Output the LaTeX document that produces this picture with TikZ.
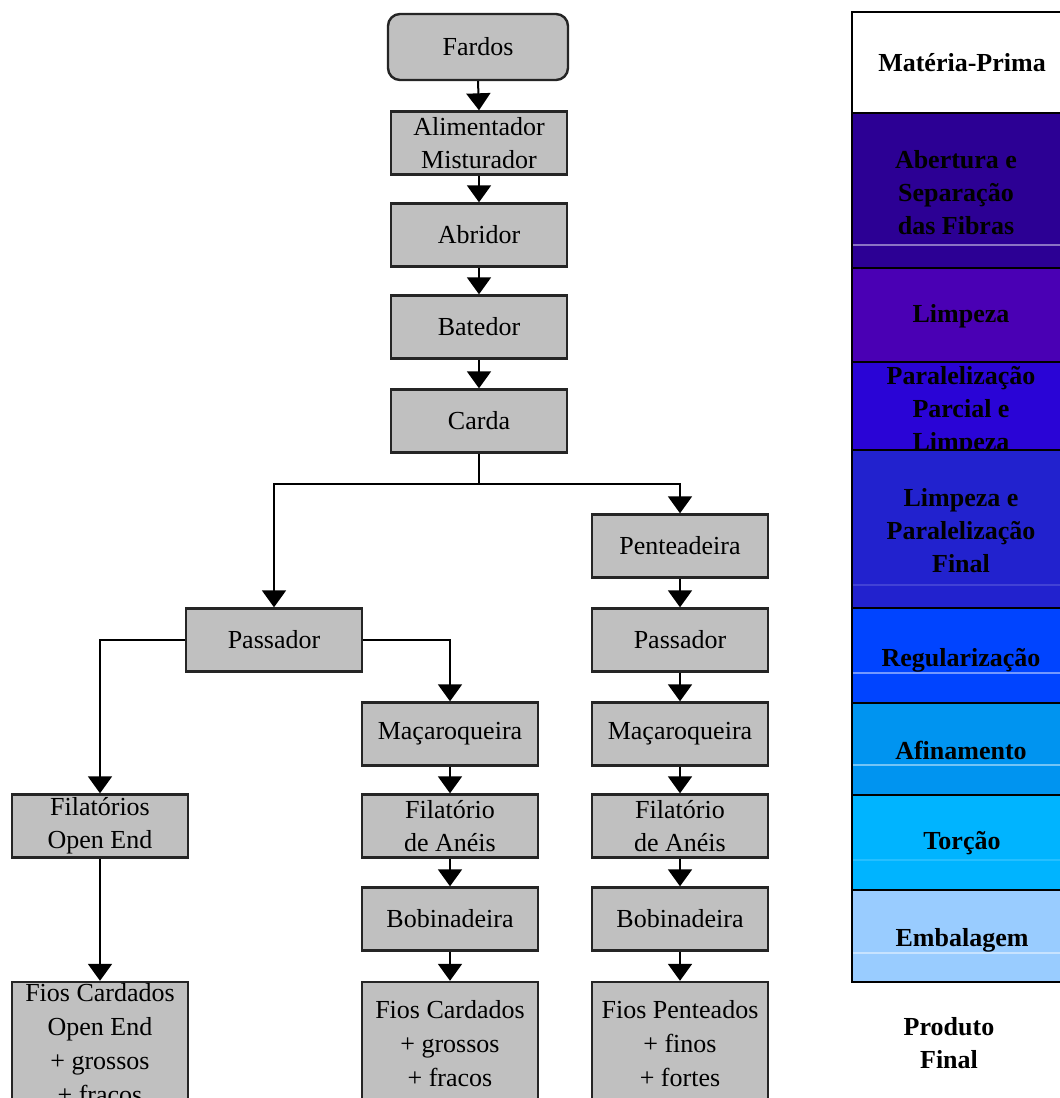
\documentclass[tikz,border=0pt]{standalone}
\usepackage{fontspec}
\setmainfont{Liberation Serif}
\usetikzlibrary{arrows.meta}
\definecolor{boxgray}{HTML}{C0C0C0}
\definecolor{edgegray}{HTML}{252525}
\definecolor{rowA}{HTML}{2C0094}
\definecolor{rowB}{HTML}{4A00B4}
\definecolor{rowC}{HTML}{2A04D6}
\definecolor{rowD}{HTML}{2222CE}
\definecolor{rowE}{HTML}{0044FF}
\definecolor{rowF}{HTML}{0094F0}
\definecolor{rowG}{HTML}{00B4FF}
\definecolor{rowH}{HTML}{99CCFF}
\begin{document}
\begin{tikzpicture}[x=0.5pt,y=-0.5pt,
  proc/.style={draw=edgegray,line width=1.2pt,fill=boxgray,minimum width=88pt,minimum height=31.5pt,inner sep=0pt,align=center,font=\fontsize{13}{16.5}\selectfont},
  startbox/.style={proc,rounded corners=6pt,minimum width=90pt,minimum height=33pt},
  endbox/.style={proc,minimum height=62pt,font=\fontsize{13}{17}\selectfont},
  arr/.style={line width=1pt,-{Triangle[width=12pt,length=8.5pt]}},
  rowbox/.style={draw=black,line width=0.9pt},
  rowtext/.style={align=center,inner sep=0pt,font=\bfseries\fontsize{13}{16.5}\selectfont},
  sheen/.style={white,opacity=0.45,line width=0.6pt}]
\useasboundingbox (0,0) rectangle (1060,1098);
\clip (0,0) rectangle (1060,1098);
\fill[white] (0,0) rectangle (1060,1098);

% main flow
\node[startbox] (fardos) at (478,47) {Fardos};
\node[proc] (alim) at (479,143) {Alimentador\\Misturador};
\node[proc] (abridor) at (479,235) {Abridor};
\node[proc] (batedor) at (479,327) {Batedor};
\node[proc] (carda) at (479,421) {Carda};
\node[proc] (pent) at (680,546) {Penteadeira};
\node[proc] (passL) at (274,640) {Passador};
\node[proc] (passR) at (680,640) {Passador};
\node[proc] (macM) at (450,734) {Maçaroqueira};
\node[proc] (macR) at (680,734) {Maçaroqueira};
\node[proc] (filOE) at (100,826) {Filatórios\\Open End};
\node[proc] (filM) at (450,826) {Filatório\\de Anéis};
\node[proc] (filR) at (680,826) {Filatório\\de Anéis};
\node[proc] (bobM) at (450,919) {Bobinadeira};
\node[proc] (bobR) at (680,919) {Bobinadeira};
\node[endbox] (fiosOE) at (100,1044) {Fios Cardados\\Open End\\+ grossos\\+ fracos};
\node[endbox] (fiosM) at (450,1044) {Fios Cardados\\+ grossos\\+ fracos};
\node[endbox] (fiosR) at (680,1044) {Fios Penteados\\+ finos\\+ fortes};

\coordinate (j) at (479,484);
\draw[arr] (fardos.south) -- (alim.north);
\draw[arr] (alim.south) -- (abridor.north);
\draw[arr] (abridor.south) -- (batedor.north);
\draw[arr] (batedor.south) -- (carda.north);
\draw[line width=1pt] (carda.south) -- (j);
\draw[arr] (j) -| (passL.north);
\draw[arr] (j) -| (pent.north);
\draw[arr] (pent.south) -- (passR.north);
\draw[arr] (passR.south) -- (macR.north);
\draw[arr] (macR.south) -- (filR.north);
\draw[arr] (filR.south) -- (bobR.north);
\draw[arr] (bobR.south) -- (fiosR.north);
\draw[arr] (passL.west) -| (filOE.north);
\draw[arr] (passL.east) -| (macM.north);
\draw[arr] (macM.south) -- (filM.north);
\draw[arr] (filM.south) -- (bobM.north);
\draw[arr] (bobM.south) -- (fiosM.north);
\draw[arr] (filOE.south) -- (fiosOE.north);

% stage table
\draw[rowbox,fill=white] (852,12) rectangle (1080,113);
\node[rowtext] (t1) at (962,63) {Matéria-Prima};
\draw[rowbox,fill=rowA] (852,113) rectangle (1080,268);
\draw[sheen] (853,245) -- (1060,245);
\node[rowtext] (t2) at (956,193) {Abertura e\\Separação\\das Fibras};
\draw[rowbox,fill=rowB] (852,268) rectangle (1080,362);
\node[rowtext] (t3) at (961,316) {Limpeza};
\draw[rowbox,fill=rowC] (852,362) rectangle (1080,450);
\node[rowtext] (t4) at (961,411) {Paralelização\\Parcial e\\Limpeza};
\draw[rowbox,fill=rowD] (852,450) rectangle (1080,608);
\draw[sheen,opacity=0.15] (853,585) -- (1060,585);
\node[rowtext] (t5) at (961,531) {Limpeza e\\Paralelização\\Final};
\draw[rowbox,fill=rowE] (852,608) rectangle (1080,703);
\draw[sheen] (853,673) -- (1060,673);
\node[rowtext] (t6) at (961,660) {Regularização};
\draw[rowbox,fill=rowF] (852,703) rectangle (1080,795);
\draw[sheen] (853,765) -- (1060,765);
\node[rowtext] (t7) at (961,750) {Afinamento};
\draw[rowbox,fill=rowG] (852,795) rectangle (1080,890);
\draw[sheen,opacity=0.15] (853,860) -- (1060,860);
\node[rowtext] (t8) at (962,843) {Torção};
\draw[rowbox,fill=rowH] (852,890) rectangle (1080,982);
\draw[sheen] (853,953) -- (1060,953);
\node[rowtext] (t9) at (962,940) {Embalagem};
\node[rowtext] (pf) at (949,1043) {Produto\\Final};
\end{tikzpicture}
\end{document}
